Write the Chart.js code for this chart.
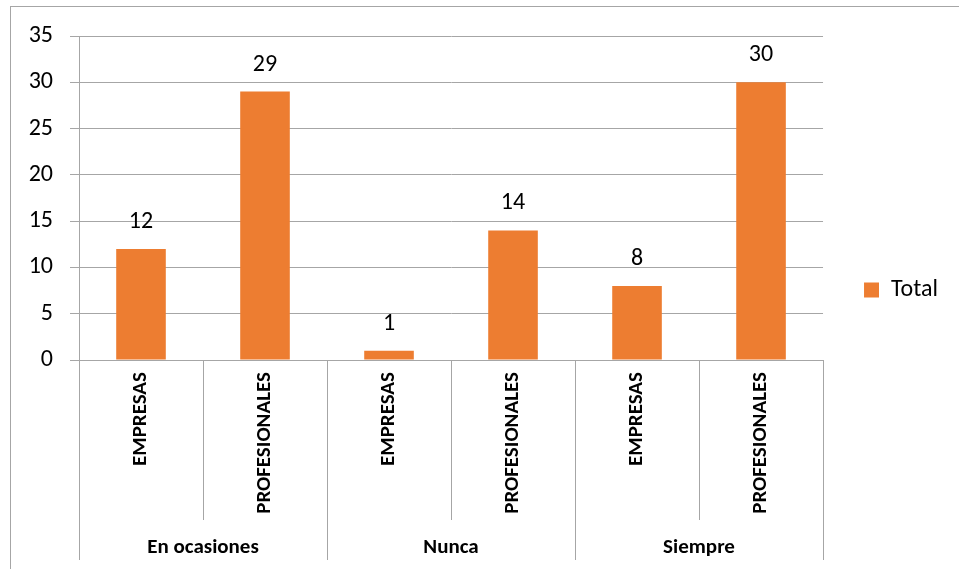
<!DOCTYPE html>
<html>
<head>
  <meta charset="utf-8">
  <title>Total por tipo</title>
  <script src="https://cdn.jsdelivr.net/npm/chart.js@4.4.1/dist/chart.umd.min.js"></script>
  <style>
    html, body { margin: 0; padding: 0; background: #fff; }
    #wrap { position: relative; width: 959px; height: 569px; }
  </style>
</head>
<body>
<div id="wrap"><canvas id="chart" width="959" height="569"></canvas></div>
<script>
  // data
  var categories = ["EMPRESAS", "PROFESIONALES", "EMPRESAS", "PROFESIONALES", "EMPRESAS", "PROFESIONALES"];
  var groups = ["En ocasiones", "Nunca", "Siempre"];
  var totals = [12, 29, 1, 14, 8, 30];
  var yTicks = [0, 5, 10, 15, 20, 25, 30, 35];

  var FONT = "Carlito, Calibri, Lato, sans-serif";
  var GRID = "#a6a6a6";
  var ORANGE = "#ed7d31";

  // frame, value labels and the two-level category axis
  var decor = {
    id: "decor",
    beforeDraw: function (chart) {
      var ctx = chart.ctx;
      ctx.save();
      ctx.strokeStyle = GRID;
      ctx.lineWidth = 1;
      ctx.strokeRect(10.5, 6.5, 1000, 1000);
      ctx.restore();
    },
    afterDraw: function (chart) {
      var ctx = chart.ctx;
      var area = chart.chartArea;
      var x = chart.scales.x;
      ctx.save();

      // value labels above each bar
      var meta = chart.getDatasetMeta(0);
      ctx.fillStyle = "#000";
      ctx.font = "24px " + FONT;
      ctx.textAlign = "center";
      ctx.textBaseline = "middle";
      meta.data.forEach(function (bar, i) {
        ctx.fillText(String(totals[i]), bar.x, bar.y - 27);
      });

      // separators below the axis (group edges run further down)
      ctx.strokeStyle = GRID;
      ctx.lineWidth = 1;
      var bottom = area.bottom;
      var edges = [];
      for (var i = 0; i <= categories.length; i++) {
        var px;
        if (i === 0) px = area.left;
        else if (i === categories.length) px = area.right;
        else px = (x.getPixelForValue(i - 1) + x.getPixelForValue(i)) / 2;
        edges.push(px);
        px = Math.round(px) + 0.5;
        var end = (i % 2 === 0) ? bottom + 200 : bottom + 160;
        ctx.beginPath();
        ctx.moveTo(px, bottom);
        ctx.lineTo(px, end);
        ctx.stroke();
      }

      // outer level labels, centred on each pair of categories
      ctx.font = "bold 21px " + FONT;
      groups.forEach(function (g, k) {
        var cx = (edges[k * 2] + edges[k * 2 + 2]) / 2;
        ctx.fillText(g, cx, bottom + 188);
      });
      ctx.restore();
    }
  };

  new Chart(document.getElementById("chart"), {
    type: "bar",
    data: {
      labels: categories,
      datasets: [{
        label: "Total",
        data: totals,
        backgroundColor: ORANGE,
        borderWidth: 0,
        categoryPercentage: 1,
        barPercentage: 0.4
      }]
    },
    options: {
      responsive: false,
      animation: false,
      events: [],
      layout: { padding: { top: 36, right: 11, bottom: 25, left: 0 } },
      plugins: {
        tooltip: { enabled: false },
        legend: {
          position: "right",
          labels: {
            color: "#000",
            font: { family: FONT, size: 24 },
            boxWidth: 15,
            boxHeight: 15,
            padding: 41
          }
        }
      },
      scales: {
        x: {
          grid: { display: false, drawTicks: false },
          border: { display: true, color: GRID },
          ticks: {
            color: "#000",
            font: { family: FONT, size: 21, weight: "bold" },
            minRotation: 90,
            maxRotation: 90,
            autoSkip: false,
            padding: 12
          },
          afterFit: function (s) { s.height = 184; }
        },
        y: {
          min: 0,
          max: 35,
          afterBuildTicks: function (s) {
            s.ticks = yTicks.map(function (v) { return { value: v }; });
          },
          grid: { color: GRID, tickLength: 9 },
          border: { color: GRID },
          ticks: {
            color: "#000",
            font: { family: FONT, size: 24 },
            padding: 17
          },
          afterFit: function (s) { s.width = 79; }
        }
      }
    },
    plugins: [decor]
  });
</script>
</body>
</html>
